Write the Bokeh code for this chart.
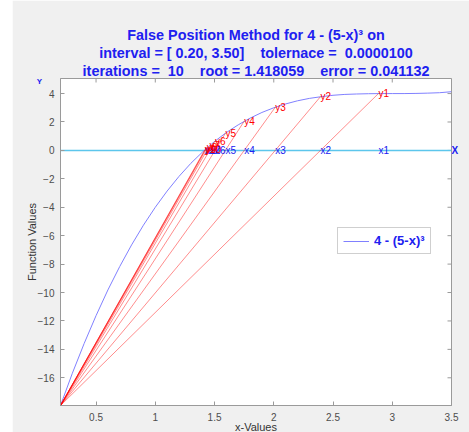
import math
from bokeh.plotting import figure
from bokeh.models import Range1d, LinearAxis, FixedTicker, Label, ColumnDataSource, Title
from bokeh.core.properties import value
from bokeh.embed import file_html
from bokeh.resources import INLINE

# ---- data ----
interval_a = 0.2
interval_b = 3.5
f_a = -17.95
y_top = 5.06

curve_x = [0.2, 0.3, 0.4, 0.5, 0.6, 0.7, 0.8, 0.9, 1.0, 1.1, 1.2, 1.3, 1.4, 1.5, 1.6, 1.7, 1.8,
           1.9, 2.0, 2.1, 2.2, 2.3, 2.4, 2.5, 2.6, 2.7, 2.8, 2.9, 3.0, 3.1, 3.2, 3.3, 3.4, 3.5]
curve_y = [-17.95, -15.68, -13.58, -11.63, -9.82, -8.17, -6.65, -5.26, -4.00, -2.86, -1.83, -0.91,
           -0.10, 0.63, 1.26, 1.80, 2.27, 2.67, 3.00, 3.27, 3.49, 3.66, 3.78, 3.88, 3.94, 3.97,
           3.99, 4.00, 4.00, 4.00, 4.01, 4.03, 4.06, 4.13]

iter_x = [2.883, 2.394, 2.013, 1.750, 1.592, 1.504, 1.458, 1.435, 1.424, 1.418]
iter_y = [4.00, 3.78, 3.04, 2.05, 1.21, 0.65, 0.33, 0.17, 0.08, 0.04]
x_names = ["x%d" % (i + 1) for i in range(len(iter_x))]
y_names = ["y%d" % (i + 1) for i in range(len(iter_x))]

x_ticks = [0.5, 1.0, 1.5, 2.0, 2.5, 3.0, 3.5]
x_tick_labels = {0.5: "0.5", 1.0: "1", 1.5: "1.5", 2.0: "2", 2.5: "2.5", 3.0: "3", 3.5: "3.5"}
y_ticks = [-16, -14, -12, -10, -8, -6, -4, -2, 0, 2, 4]

title_lines = [
    "False Position Method for 4 - (5-x)\u00b3 on",
    "interval = [ 0.20, 3.50]\u00a0\u00a0\u00a0\u00a0tolernace =\u00a0\u00a00.0000100",
    "iterations =\u00a0\u00a010\u00a0\u00a0\u00a0\u00a0root = 1.418059\u00a0\u00a0\u00a0\u00a0error = 0.041132",
]
legend_text = "4 - (5-x)\u00b3"
x_axis_title = "x-Values"
y_axis_title = "Function Values"

FONT = "Liberation Sans"
BLUE = "#2020f0"
GRAY_TXT = "#4d4d4d"
AX = "#9a9a9a"

p = figure(width=457, height=432,
           x_range=Range1d(interval_a, interval_b), y_range=Range1d(f_a, y_top),
           output_backend="svg", toolbar_location=None,
           min_border_left=48, min_border_right=18, min_border_top=78, min_border_bottom=27,
           background_fill_color="white", border_fill_color="#f0f0f0",
           outline_line_color=AX, margin=(0, 0, 0, 12))
p.grid.visible = False

for ax in [p.xaxis[0], p.yaxis[0]]:
    ax.major_tick_in = 4
    ax.major_tick_out = 0
    ax.minor_tick_line_color = None
    ax.axis_line_color = AX
    ax.major_tick_line_color = AX
    ax.major_label_text_font = FONT
    ax.major_label_text_font_size = "10px"
    ax.major_label_text_color = GRAY_TXT
    ax.axis_label_text_font = FONT
    ax.axis_label_text_font_size = "11px"
    ax.axis_label_text_font_style = "normal"
    ax.axis_label_text_color = "#333333"

p.xaxis[0].ticker = FixedTicker(ticks=x_ticks)
p.xaxis[0].major_label_overrides = x_tick_labels
p.xaxis[0].major_label_standoff = 7
p.yaxis[0].ticker = FixedTicker(ticks=y_ticks)
p.yaxis[0].major_label_standoff = 6
p.yaxis[0].axis_label = y_axis_title
p.yaxis[0].axis_label_standoff = -3

# right axis only carries the "X" marker text at y = 0
right_ax = LinearAxis(ticker=FixedTicker(ticks=[0]), major_label_overrides={0: "X"})
right_ax.major_tick_in = 0
right_ax.major_tick_out = 0
right_ax.minor_tick_line_color = None
right_ax.axis_line_color = None
right_ax.major_label_standoff = 0
right_ax.major_label_text_font = FONT
right_ax.major_label_text_font_size = "10px"
right_ax.major_label_text_font_style = "bold"
right_ax.major_label_text_color = BLUE
p.add_layout(right_ax, "right")

# inward tick marks on the top and right edges of the box
p.scatter(x=x_ticks, y=[y_top] * len(x_ticks), marker="dash", angle=math.pi / 2, size=8,
          line_color=AX, line_width=1)
p.scatter(x=[interval_b] * len(y_ticks), y=y_ticks, marker="dash", size=8,
          line_color=AX, line_width=1)

# zero line
p.line([interval_a, interval_b], [0, 0], line_color="#5cc6ec", line_width=1.5)

# function curve
p.line(curve_x, curve_y, line_color="#8080ff", line_width=1, legend_label=legend_text)

# false position chords
p.segment(x0=[interval_a] * len(iter_x), y0=[f_a] * len(iter_x), x1=iter_x, y1=iter_y,
          line_color="red", line_alpha=0.45, line_width=1)

src = ColumnDataSource(dict(x=iter_x, y=iter_y, z=[0] * len(iter_x), xn=x_names, yn=y_names))
p.text(x="x", y="z", text="xn", source=src, text_color=BLUE, text_font=value(FONT),
       text_font_size="10px", text_align="left", text_baseline="middle")
p.text(x="x", y="y", text="yn", source=src, text_color="red", text_font=value(FONT),
       text_font_size="10px", text_align="left", text_baseline="middle")

# three-line title, innermost first
for t, so in zip(reversed(title_lines), [0, 0, -1]):
    p.add_layout(Title(text=t, align="center", text_color=BLUE, text_font=FONT,
                       text_font_size="14.4px", text_font_style="bold", standoff=so), "above")

# "Y" marker label, outermost in the top side panel (outside frame clipping)
p.add_layout(Label(x=-21, y=-56, x_units="screen", y_units="screen", text="Y",
                   text_color=BLUE, text_font=FONT, text_font_size="8px",
                   text_font_style="bold", text_align="center", text_baseline="middle"),
             "above")
# x axis title, also placed from the top side panel
p.add_layout(Label(x=195.5, y=-410, x_units="screen", y_units="screen", text=x_axis_title,
                   text_color="#333333", text_font=FONT, text_font_size="11px",
                   text_align="center", text_baseline="middle"),
             "above")

lg = p.legend[0]
lg.location = (277, 151)
lg.label_text_font = FONT
lg.label_text_font_size = "13px"
lg.label_text_font_style = "bold"
lg.label_text_color = BLUE
lg.border_line_color = "#a0a0a0"
lg.glyph_width = 26
lg.glyph_height = 12
lg.padding = 5
lg.margin = 0
lg.label_standoff = 5
lg.background_fill_alpha = 1

open("out.html", "w").write(file_html(p, INLINE))
